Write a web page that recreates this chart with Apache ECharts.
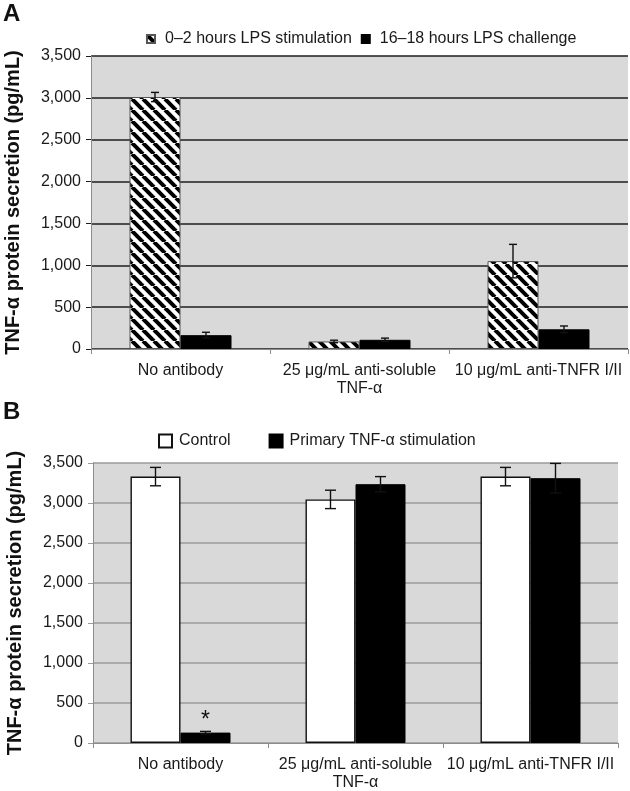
<!DOCTYPE html>
<html><head><meta charset="utf-8">
<script src="https://cdn.jsdelivr.net/npm/echarts/dist/echarts.min.js"></script>
<style>html,body{margin:0;padding:0;background:#fff}#chart{width:630px;height:791px}</style>
</head><body><div id="chart"></div>
<script>
const categories = ['No antibody', '25 μg/mL anti-soluble\nTNF-α', '10 μg/mL anti-TNFR I/II'];
const yTicks = [0, 500, 1000, 1500, 2000, 2500, 3000, 3500];

const legendA = ['0–2 hours LPS stimulation', '16–18 hours LPS challenge'];
const aStim = [3010, 90, 1050];
const aStimErr = [55, 15, 200];
const aChal = [165, 110, 235];
const aChalErr = [35, 20, 40];

const legendB = ['Control', 'Primary TNF-α stimulation'];
const bCtrl = [3330, 3045, 3330];
const bCtrlErr = [115, 115, 115];
const bPrim = [130, 3235, 3310];
const bPrimErr = [15, 95, 185];
const bMarks = ['*', '', ''];

const yTitle = 'TNF-α protein secretion (pg/mL)';
const FONT = '"Liberation Sans", Arial, sans-serif';

// diagonal hatch pattern
const P = 11;
const pat = document.createElement('canvas');
pat.width = P; pat.height = P;
(function(){
  const c = pat.getContext('2d');
  c.fillStyle = '#fff'; c.fillRect(0,0,P,P);
  c.strokeStyle = '#000'; c.lineWidth = 4;
  for (const o of [-P, 0, P]) { c.beginPath(); c.moveTo(o, 0); c.lineTo(o + P, P); c.stroke(); }
})();
const hatch = { image: pat, repeat: 'repeat' };

function errSeries(gi, values, errs, side, barW, cap) {
  return {
    type: 'custom', xAxisIndex: gi, yAxisIndex: gi, silent: true, z: 5,
    data: values.map((v, i) => [i, v, errs[i]]),
    encode: { x: 0, y: 1 },
    renderItem: (params, api) => {
      const i = api.value(0), v = api.value(1), e = api.value(2);
      const t = api.coord([i, v + e]);
      const b = api.coord([i, v - e]);
      const cx = t[0] + side * barW / 2;
      const st = { stroke: '#111', lineWidth: 1.4 };
      return { type: 'group', children: [
        { type: 'line', shape: { x1: cx, y1: t[1], x2: cx, y2: b[1] }, style: st },
        { type: 'line', shape: { x1: cx - cap, y1: t[1], x2: cx + cap, y2: t[1] }, style: st },
        { type: 'line', shape: { x1: cx - cap, y1: b[1], x2: cx + cap, y2: b[1] }, style: st }
      ]};
    }
  };
}

function xAx(gi) {
  return {
    type: 'category', gridIndex: gi, data: categories,
    axisLine: { show: true, lineStyle: { color: '#8c8c8c', width: 1 } },
    axisTick: { show: true, length: 5, lineStyle: { color: '#8c8c8c' } },
    axisLabel: { color: '#1a1a1a', fontSize: 16, fontFamily: FONT, margin: 13, lineHeight: 18, interval: 0 }
  };
}
function yAx(gi, gridColor, tickColor) {
  return {
    type: 'value', gridIndex: gi, min: yTicks[0], max: yTicks[yTicks.length - 1], interval: yTicks[1] - yTicks[0],
    name: yTitle, nameLocation: 'middle', nameGap: 68,
    nameTextStyle: { fontSize: 20, fontWeight: 'bold', color: '#111', fontFamily: FONT },
    axisLine: { show: true, lineStyle: { color: '#8c8c8c' } },
    axisTick: { show: true, length: 5, lineStyle: { color: tickColor } },
    splitLine: { show: true, lineStyle: { color: gridColor, width: 1.6 } },
    axisLabel: { color: '#1a1a1a', fontSize: 16, fontFamily: FONT, margin: 10,
      formatter: v => v.toLocaleString('en-US') }
  };
}

const option = {
  animation: false,
  backgroundColor: '#fff',
  textStyle: { fontFamily: FONT },
  graphic: [
    { type: 'text', left: 3, top: 2, style: { text: 'A', font: 'bold 24px ' + FONT, fill: '#111' } },
    { type: 'text', left: 3, top: 400, style: { text: 'B', font: 'bold 24px ' + FONT, fill: '#111' } }
  ],
  legend: [
    { data: legendA, left: 141, top: 26, itemWidth: 8, itemHeight: 8, itemGap: 9, icon: 'rect',
      textStyle: { fontSize: 16, color: '#1a1a1a', padding: [0, 0, 0, 5] } },
    { data: legendB, left: 153, top: 428, itemWidth: 13, itemHeight: 13, itemGap: 38, icon: 'rect',
      textStyle: { fontSize: 16, color: '#1a1a1a', padding: [0, 0, 0, 2] } }
  ],
  grid: [
    { left: 91, right: 2, top: 56, height: 293, show: true, backgroundColor: '#d9d9d9', borderWidth: 0,
      containLabel: false, outerBoundsMode: 'none' },
    { left: 93, right: 12, top: 463, height: 280, show: true, backgroundColor: '#d9d9d9', borderWidth: 0,
      containLabel: false, outerBoundsMode: 'none' }
  ],
  xAxis: [xAx(0), xAx(1)],
  yAxis: [yAx(0, '#1e1e1e', '#1e1e1e'), yAx(1, '#9a9a9a', '#9a9a9a')],
  series: [
    { name: legendA[0], type: 'bar', xAxisIndex: 0, yAxisIndex: 0, data: aStim, barWidth: 51, barGap: '0%',
      itemStyle: { color: hatch, borderColor: '#555', borderWidth: 1 } },
    { name: legendA[1], type: 'bar', xAxisIndex: 0, yAxisIndex: 0, data: aChal, barWidth: 51, barGap: '0%',
      itemStyle: { color: '#000', borderColor: '#000', borderWidth: 1 } },
    { name: legendB[0], type: 'bar', xAxisIndex: 1, yAxisIndex: 1, data: bCtrl, barWidth: 50, barGap: '0%',
      itemStyle: { color: '#fff', borderColor: '#111', borderWidth: 1.4 } },
    { name: legendB[1], type: 'bar', xAxisIndex: 1, yAxisIndex: 1, data: bPrim, barWidth: 50, barGap: '0%',
      itemStyle: { color: '#000', borderColor: '#000', borderWidth: 1 },
      label: { show: true, position: 'top', distance: 0, fontSize: 23, color: '#111',
        formatter: p => bMarks[p.dataIndex] } },
    errSeries(0, aStim, aStimErr, -1, 51, 4),
    errSeries(0, aChal, aChalErr, 1, 51, 4),
    errSeries(1, bCtrl, bCtrlErr, -1, 50, 5.5),
    errSeries(1, bPrim, bPrimErr, 1, 50, 5.5)
  ]
};
const chart = echarts.init(document.getElementById('chart'));
chart.setOption(option);
</script></body></html>
